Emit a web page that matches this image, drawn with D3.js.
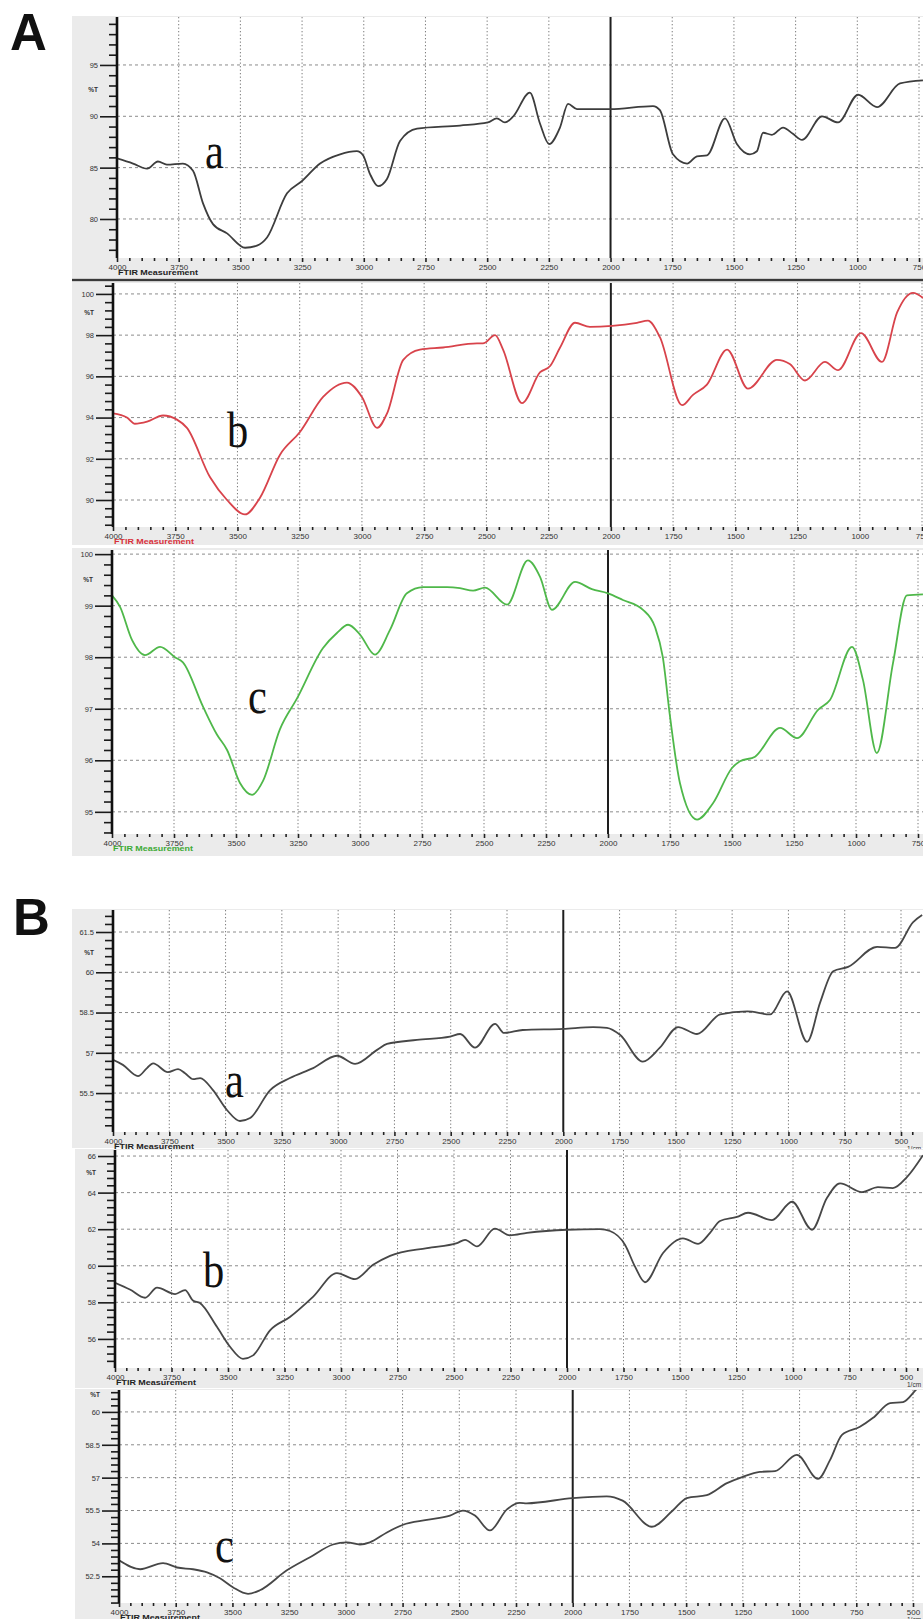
<!DOCTYPE html>
<html>
<head>
<meta charset="utf-8">
<script src="https://cdn.jsdelivr.net/npm/d3@7"></script>
<style>
  html, body { margin: 0; padding: 0; background: #fff; }
  svg { display: block; }
</style>
</head>
<body>
<svg id="chart" width="923" height="1619"></svg>
<script>
// wavenumber ticks (1/cm)
const waveTicksA = [4000, 3750, 3500, 3250, 3000, 2750, 2500, 2250, 2000, 1750, 1500, 1250, 1000, 750];
const waveTicksB = [4000, 3750, 3500, 3250, 3000, 2750, 2500, 2250, 2000, 1750, 1500, 1250, 1000, 750, 500];

// %T ticks for each spectrum
const ticksAa = [80, 85, 90, 95];
const ticksAb = [90, 92, 94, 96, 98, 100];
const ticksAc = [95, 96, 97, 98, 99, 100];
const ticksBa = [55.5, 57, 58.5, 60, 61.5];
const ticksBb = [56, 58, 60, 62, 64, 66];
const ticksBc = [52.5, 54, 55.5, 57, 58.5, 60];

// spectra, [wavenumber, %T]
const specAa = [[4000,85.9],[3935,85.4],[3878,84.9],[3834,85.6],[3798,85.3],[3733,85.4],[3692,84.7],[3651,81.5],[3611,79.5],[3554,78.6],[3481,77.2],[3433,77.4],[3392,78.2],[3311,82.5],[3250,83.7],[3177,85.4],[3096,86.3],[3028,86.6],[3003,86.2],[2975,84.4],[2942,83.2],[2906,83.9],[2853,87.6],[2784,88.8],[2610,89.1],[2497,89.4],[2461,89.8],[2428,89.4],[2394,90.0],[2327,92.3],[2286,89.3],[2249,87.3],[2205,88.9],[2172,91.2],[2136,90.7],[2002,90.7],[1828,91.0],[1800,90.6],[1747,86.3],[1690,85.4],[1650,86.1],[1609,86.2],[1536,89.8],[1488,87.3],[1435,86.3],[1407,86.6],[1382,88.4],[1346,88.2],[1301,88.9],[1261,88.3],[1224,87.7],[1143,90.0],[1078,89.4],[997,92.1],[920,90.9],[827,93.2],[734,93.5]];
const specAb = [[4000,94.2],[3944,94.0],[3912,93.7],[3863,93.8],[3799,94.1],[3743,93.9],[3703,93.5],[3610,91.1],[3542,90.0],[3470,89.3],[3410,90.1],[3329,92.2],[3249,93.3],[3156,95.0],[3060,95.7],[3000,95.0],[2939,93.5],[2899,94.2],[2834,96.8],[2767,97.3],[2674,97.4],[2538,97.6],[2514,97.6],[2465,98.0],[2433,97.3],[2357,94.7],[2284,96.2],[2244,96.5],[2204,97.4],[2144,98.6],[2084,98.4],[1995,98.45],[1895,98.6],[1851,98.7],[1803,97.9],[1714,94.6],[1670,95.1],[1614,95.6],[1533,97.3],[1449,95.4],[1333,96.8],[1281,96.6],[1220,95.8],[1140,96.7],[1087,96.3],[995,98.1],[911,96.7],[850,99.1],[786,100.05],[745,99.8]];
const specAc = [[4000,99.2],[3968,98.98],[3919,98.33],[3867,98.04],[3806,98.2],[3746,98.0],[3714,97.9],[3633,97.04],[3577,96.5],[3536,96.2],[3484,95.56],[3435,95.33],[3391,95.6],[3323,96.6],[3254,97.2],[3149,98.18],[3093,98.47],[3048,98.63],[3000,98.44],[2940,98.05],[2879,98.53],[2811,99.24],[2746,99.36],[2649,99.36],[2597,99.34],[2544,99.29],[2496,99.35],[2407,99.02],[2323,99.88],[2274,99.56],[2226,98.92],[2133,99.46],[2065,99.32],[2000,99.24],[1940,99.11],[1859,98.92],[1811,98.59],[1779,98.0],[1750,96.85],[1710,95.56],[1641,94.85],[1576,95.17],[1500,95.85],[1468,95.98],[1407,96.07],[1306,96.63],[1238,96.43],[1153,96.98],[1105,97.17],[1016,98.2],[972,97.56],[916,96.14],[851,97.88],[795,99.2],[730,99.22]];
const specBa = [[4000,56.74],[3956,56.55],[3889,56.13],[3849,56.43],[3822,56.61],[3756,56.28],[3711,56.39],[3680,56.24],[3644,56.02],[3613,56.06],[3556,55.61],[3494,54.87],[3436,54.46],[3391,54.57],[3302,55.61],[3214,56.06],[3111,56.43],[3005,56.89],[2925,56.59],[2827,57.11],[2783,57.33],[2650,57.48],[2503,57.6],[2458,57.7],[2392,57.19],[2303,58.08],[2263,57.74],[2180,57.85],[2001,57.89],[1867,57.96],[1806,57.93],[1748,57.67],[1647,56.67],[1571,57.19],[1490,57.96],[1406,57.7],[1303,58.43],[1183,58.54],[1081,58.43],[1006,59.29],[917,57.41],[859,58.88],[801,60.04],[735,60.2],[606,60.95],[526,60.91],[446,61.87],[406,62.13]];
const specBb = [[4000,59.07],[3934,58.7],[3867,58.25],[3814,58.8],[3734,58.45],[3690,58.67],[3655,58.1],[3624,57.96],[3549,56.66],[3491,55.57],[3434,54.91],[3389,55.1],[3314,56.47],[3226,57.2],[3124,58.3],[3018,59.6],[2938,59.27],[2858,60.05],[2783,60.54],[2619,60.97],[2487,61.24],[2451,61.42],[2398,61.06],[2319,62.03],[2252,61.66],[2177,61.8],[2000,61.97],[1854,62.0],[1810,61.9],[1743,61.14],[1699,59.95],[1655,59.1],[1575,60.7],[1487,61.5],[1420,61.2],[1367,61.8],[1323,62.45],[1248,62.67],[1199,62.9],[1093,62.5],[1004,63.5],[916,61.97],[850,63.7],[792,64.5],[695,64.03],[624,64.3],[558,64.25],[496,64.85],[425,66.05]];
const specBc = [[4000,53.23],[3907,52.82],[3806,53.1],[3744,52.9],[3674,52.82],[3612,52.68],[3555,52.41],[3498,52.0],[3431,51.7],[3379,51.86],[3260,52.77],[3158,53.37],[3057,53.95],[2995,54.05],[2938,53.95],[2894,54.05],[2819,54.5],[2748,54.85],[2643,55.07],[2541,55.27],[2484,55.5],[2431,55.27],[2365,54.59],[2290,55.55],[2233,55.85],[2203,55.83],[2000,56.07],[1850,56.15],[1780,55.95],[1651,54.76],[1559,55.5],[1497,56.07],[1409,56.2],[1320,56.75],[1250,57.04],[1175,57.26],[1108,57.3],[1012,58.04],[919,56.94],[866,57.8],[813,58.95],[734,59.32],[676,59.73],[601,60.4],[544,60.45],[483,61.05],[455,61.3]];

const W = 923;
const sans = "'Liberation Sans', Arial, sans-serif";

const panels = [
  { spec: specAa, yTicks: ticksAa, yDomain: [76.2, 99.67], waves: waveTicksA, xEnd: 750,
    frame: [72, 16, 278], plot: [117, 919, 17, 258], color: "#3d3d3d", capColor: "#222",
    letter: "a", letterAt: [3643, 85.0], pctY: 90, unit: false },
  { spec: specAb, yTicks: ticksAb, yDomain: [88.69, 100.53], waves: waveTicksA, xEnd: 750,
    frame: [72, 282, 545], plot: [113, 922, 283, 527], color: "#d8434b", capColor: "#d8303a",
    letter: "b", letterAt: [3542, 92.57], pctY: 313, unit: false },
  { spec: specAc, yTicks: ticksAc, yDomain: [94.57, 100.08], waves: waveTicksA, xEnd: 750,
    frame: [72, 548, 856], plot: [112, 918, 550, 834], color: "#4fb84a", capColor: "#3daa35",
    letter: "c", letterAt: [3452, 96.92], pctY: 580, unit: false },
  { spec: specBa, yTicks: ticksBa, yDomain: [54.05, 62.32], waves: waveTicksB, xEnd: 500,
    frame: [72, 909, 1148], plot: [113, 901, 910, 1132], color: "#474747", capColor: "#222",
    letter: "a", letterAt: [3502, 55.35], pctY: 953, unit: true },
  { spec: specBb, yTicks: ticksBb, yDomain: [54.41, 66.33], waves: waveTicksB, xEnd: 500,
    frame: [75, 1149, 1388], plot: [115, 906, 1150, 1368], color: "#474747", capColor: "#222",
    letter: "b", letterAt: [3611, 58.85], pctY: 1173, unit: true },
  { spec: specBc, yTicks: ticksBc, yDomain: [51.28, 61.0], waves: waveTicksB, xEnd: 500,
    frame: [75, 1389, 1619], plot: [119, 913, 1390, 1603], color: "#474747", capColor: "#222",
    letter: "c", letterAt: [3577, 53.14], pctY: 1395, unit: true },
];

const svg = d3.select("#chart");
const defs = svg.append("defs");

const drawPanel = (p, i) => {
  const [fx, fy0, fy1] = p.frame;
  const [left, right, top, bottom] = p.plot;
  const x = d3.scaleLinear().domain([4000, p.xEnd]).range([left, right]);
  const y = d3.scaleLinear().domain(p.yDomain).range([bottom, top]);
  const g = svg.append("g");

  // gray instrument frame and white plotting area
  g.append("rect").attr("x", fx).attr("y", fy0).attr("width", W - fx).attr("height", fy1 - fy0).attr("fill", "#ebebeb");
  g.append("rect").attr("x", left).attr("y", top).attr("width", W - left).attr("height", bottom - top).attr("fill", "#fff");

  // grid
  g.selectAll(".hgrid").data(p.yTicks).join("line")
    .attr("x1", left).attr("x2", W)
    .attr("y1", (d) => y(d)).attr("y2", (d) => y(d))
    .attr("stroke", "#8c8c8c").attr("stroke-width", 1).attr("stroke-dasharray", "3,3");
  g.selectAll(".vgrid").data(p.waves.filter((d) => d !== 4000 && d !== 2000)).join("line")
    .attr("x1", (d) => x(d)).attr("x2", (d) => x(d))
    .attr("y1", top).attr("y2", bottom)
    .attr("stroke", "#7a7a7a").attr("stroke-width", 1).attr("stroke-dasharray", "1.3,2.2");

  // cursor line at 2000
  g.append("line")
    .attr("x1", x(2000)).attr("x2", x(2000)).attr("y1", top).attr("y2", bottom)
    .attr("stroke", "#1e1e1e").attr("stroke-width", 2);

  // spectrum
  const clipId = `clip${i}`;
  defs.append("clipPath").attr("id", clipId).append("rect")
    .attr("x", left).attr("y", top).attr("width", W - left).attr("height", bottom - top);
  const line = d3.line().curve(d3.curveMonotoneX).x((d) => x(d[0])).y((d) => y(d[1]));
  g.append("path")
    .attr("clip-path", `url(#${clipId})`)
    .attr("fill", "none").attr("stroke", p.color).attr("stroke-width", 1.8)
    .attr("stroke-linejoin", "round")
    .attr("d", line(p.spec));

  // y axis: major and minor ticks
  const step = (p.yTicks[1] - p.yTicks[0]) / 5;
  const t0 = p.yTicks[0];
  const minor = d3.range(Math.ceil((p.yDomain[0] - t0) / step), Math.floor((p.yDomain[1] - t0) / step) + 1)
    .filter((k) => ((k % 5) + 5) % 5 !== 0)
    .map((k) => t0 + k * step);

  const yMinor = g.append("g").attr("transform", `translate(${left},0)`)
    .call(d3.axisLeft(y).tickValues(minor).tickSize(8).tickFormat(""));
  const yMajor = g.append("g").attr("transform", `translate(${left},0)`)
    .call(d3.axisLeft(y).tickValues(p.yTicks).tickSize(17).tickPadding(2).tickFormat((d) => String(d)));
  [yMinor, yMajor].forEach((ax) => {
    ax.select(".domain").remove();
    ax.selectAll("line").attr("stroke", "#1a1a1a").attr("stroke-width", 1.6);
    ax.selectAll("text").attr("font-family", sans).attr("font-size", 7.5).attr("fill", "#333");
  });
  g.append("line").attr("x1", left).attr("x2", left).attr("y1", top).attr("y2", bottom)
    .attr("stroke", "#111").attr("stroke-width", 2.6);

  g.append("text").text("%T")
    .attr("x", left - 19).attr("y", p.pctY).attr("dy", "0.32em")
    .attr("text-anchor", "end").attr("font-family", sans).attr("font-size", 6.5)
    .attr("font-weight", "bold").attr("fill", "#333");

  // x axis
  const xMinor = d3.range(4000, x.invert(W), -50).filter((d) => d % 250 !== 0);
  const xm = g.append("g").attr("transform", `translate(0,${bottom})`)
    .call(d3.axisBottom(x).tickValues(xMinor).tickSize(3).tickFormat(""));
  const xM = g.append("g").attr("transform", `translate(0,${bottom})`)
    .call(d3.axisBottom(x).tickValues(p.waves).tickSize(4).tickPadding(2).tickFormat((d) => String(d)));
  [xm, xM].forEach((ax) => {
    ax.select(".domain").remove();
    ax.selectAll("line").attr("stroke", "#222").attr("stroke-width", 1.6);
    ax.selectAll("text").attr("font-family", sans).attr("font-size", 8).attr("fill", "#333");
  });

  g.append("text").text("FTIR Measurement")
    .attr("x", left + 1).attr("y", bottom + 17)
    .attr("font-family", sans).attr("font-size", 6.5).attr("font-weight", "bold")
    .attr("textLength", 80).attr("lengthAdjust", "spacingAndGlyphs")
    .attr("fill", p.capColor);

  if (p.unit)
    g.append("text").text("1/cm")
      .attr("x", 907).attr("y", bottom + 19)
      .attr("font-family", sans).attr("font-size", 6.5).attr("fill", "#333");

  // sample letter
  g.append("text").text(p.letter)
    .attr("transform", `translate(${x(p.letterAt[0])},${y(p.letterAt[1])}) scale(0.85,1)`)
    .attr("font-family", "'Liberation Serif', 'Times New Roman', serif")
    .attr("font-size", 50).attr("fill", "#111");
};

panels.forEach(drawPanel);

// separator under the first spectrum
svg.append("line").attr("x1", 72).attr("x2", W).attr("y1", 280).attr("y2", 280)
  .attr("stroke", "#3a3a3a").attr("stroke-width", 2.5);

// figure part labels
svg.selectAll(".part").data([["A", 10, 50], ["B", 13, 935]]).join("text")
  .text((d) => d[0]).attr("x", (d) => d[1]).attr("y", (d) => d[2])
  .attr("font-family", sans).attr("font-weight", "bold").attr("font-size", 51).attr("fill", "#111");
</script>
</body>
</html>
